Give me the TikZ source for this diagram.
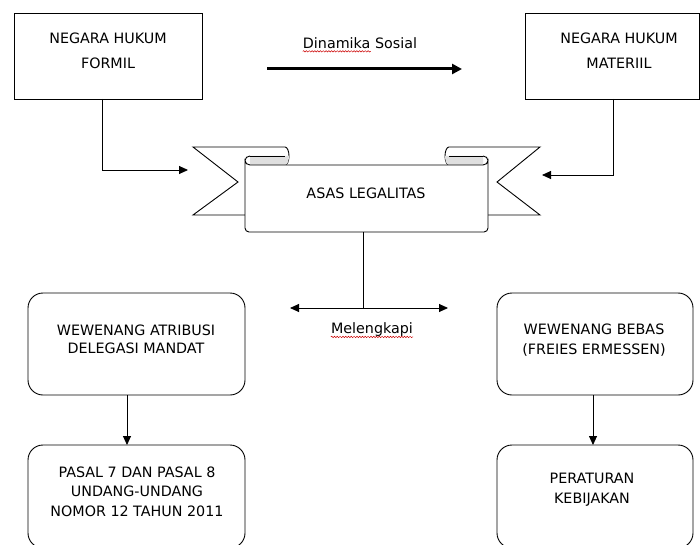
\documentclass[tikz,border=0pt]{standalone}
\usepackage{fontspec}
\setmainfont{DejaVu Sans}
\usetikzlibrary{arrows.meta,calc,decorations.pathmorphing}
\tikzset{
  box/.style={draw, line width=0.9pt, fill=white, inner sep=0pt, outer sep=0pt},
  rbox/.style={box, rounded corners=15pt},
  txt/.style={align=center, inner sep=0pt},
  ln/.style={line width=0.9pt},
  arr/.style={ln, -{Triangle[length=9pt,width=8pt]}},
  squig/.style={red!80!black, line width=0.5pt, decorate, decoration={snake, amplitude=0.7pt, segment length=2.8pt}},
}
\begin{document}
\begin{tikzpicture}[x=1pt,y=-1pt]
\useasboundingbox (0,0) rectangle (700,545);
\clip (0,0) rectangle (700,545);
\fill[white] (0,0) rectangle (700,545);

% top boxes
\node[box, minimum width=188, minimum height=86] (f) at (108,56) {};
\node[txt, font=\fontsize{14.3}{25}\selectfont] (ft) at (108,50.5) {NEGARA HUKUM\\FORMIL};
\node[box, minimum width=174, minimum height=86] (m) at (612,56) {};
\node[txt, font=\fontsize{14.3}{25}\selectfont] (mt) at (619,50.5) {NEGARA HUKUM\\MATERIIL};

% Dinamika Sosial
\node[txt, font=\fontsize{14.3}{17}\selectfont] (dyn) at (360,43) {Dinamika Sosial};
\draw[squig] ($(dyn.base west)+(0,3)$) -- ++(68,0);
\coordinate (d1) at (267,69);
\coordinate (d2) at (462,69);
\draw[line width=3pt, -{Triangle[length=10pt,width=10pt]}] (d1) -- (d2);

% ribbon: tails
\path[fill=white] (246,215) -- (193,215) -- (238,182) -- (193,147) -- (285,147) arc[start angle=270,end angle=450,x radius=4,y radius=9] -- cycle;
\draw[ln] (246,215) -- (193,215) -- (238,182) -- (193,147) -- (285,147) arc[start angle=270,end angle=450,x radius=4,y radius=9];
\path[fill=white] (488,215) -- (540,215) -- (497,182) -- (540,147) -- (449,147) arc[start angle=270,end angle=90,x radius=4,y radius=9] -- cycle;
\draw[ln] (488,215) -- (540,215) -- (497,182) -- (540,147) -- (449,147) arc[start angle=270,end angle=90,x radius=4,y radius=9];
% rolls
\fill[gray!25] (250,156) -- (289,156) arc[start angle=0,end angle=90,x radius=4,y radius=9] -- (250,165) -- cycle;
\draw[ln] (250,156) -- (285,156);
\fill[gray!25] (483,156) -- (445,156) arc[start angle=180,end angle=90,x radius=4,y radius=9] -- (483,165) -- cycle;
\draw[ln] (483,156) -- (449,156);
% body
\draw[ln, fill=white] (250,165) arc[start angle=90,end angle=180,x radius=5,y radius=4.5] -- (245,228) arc[start angle=180,end angle=90,radius=4] -- (484,232) arc[start angle=90,end angle=0,radius=4] -- (488,160.5) arc[start angle=0,end angle=90,x radius=5,y radius=4.5] -- cycle;
\draw[ln] (245,160.5) arc[start angle=180,end angle=270,x radius=5,y radius=4.5];
\draw[ln] (488,160.5) arc[start angle=0,end angle=-90,x radius=5,y radius=4.5];
\node[inner sep=0pt, minimum width=243, minimum height=67] (rib) at (366.5,198.5) {};
\node[txt, font=\fontsize{14.3}{17}\selectfont] (asas) at (366,193) {ASAS LEGALITAS};

% arrows into ribbon
\coordinate (la) at (188,170);
\coordinate (ra) at (542,175);
\draw[arr] ($(f.south)+(-6,0)$) |- (la);
\draw[arr] ($(m.south)+(1,0)$) |- (ra);

% Melengkapi
\coordinate (mid) at (363,308);
\coordinate (ml) at (290,308);
\coordinate (mr) at (448,308);
\draw[ln] (rib.south -| mid) -- (mid);
\draw[ln, {Triangle[length=9pt,width=8pt]}-{Triangle[length=9pt,width=8pt]}] (ml) -- (mr);
\node[txt, font=\fontsize{14.3}{17}\selectfont] (mel) at (372,330) {Melengkapi};
\draw[squig] ($(mel.base west)+(0,3)$) -- ($(mel.base east)+(0,3)$);

% lower boxes
\node[rbox, minimum width=217, minimum height=102] (a) at (136.5,344) {};
\node[txt, font=\fontsize{14.3}{18}\selectfont] (at) at (136,339) {WEWENANG ATRIBUSI\\DELEGASI MANDAT};
\node[rbox, minimum width=217, minimum height=103] (p) at (136.5,496.5) {};
\node[txt, font=\fontsize{14.3}{19.5}\selectfont] (pt) at (137,491.5) {PASAL 7 DAN PASAL 8\\UNDANG-UNDANG\\NOMOR 12 TAHUN 2011};
\node[rbox, minimum width=196, minimum height=102] (b) at (595,344) {};
\node[txt, font=\fontsize{14.3}{20}\selectfont] (bt) at (594,340.5) {WEWENANG BEBAS\\(FREIES ERMESSEN)};
\node[rbox, minimum width=196, minimum height=103] (k) at (595,496.5) {};
\node[txt, font=\fontsize{14.3}{20}\selectfont] (kt) at (592,490) {PERATURAN\\KEBIJAKAN};

\draw[arr] ($(a.south)+(-9.5,0)$) -- ($(p.north)+(-9.5,0)$);
\draw[arr] ($(b.south)+(-2,0)$) -- ($(k.north)+(-2,0)$);
\end{tikzpicture}
\end{document}
